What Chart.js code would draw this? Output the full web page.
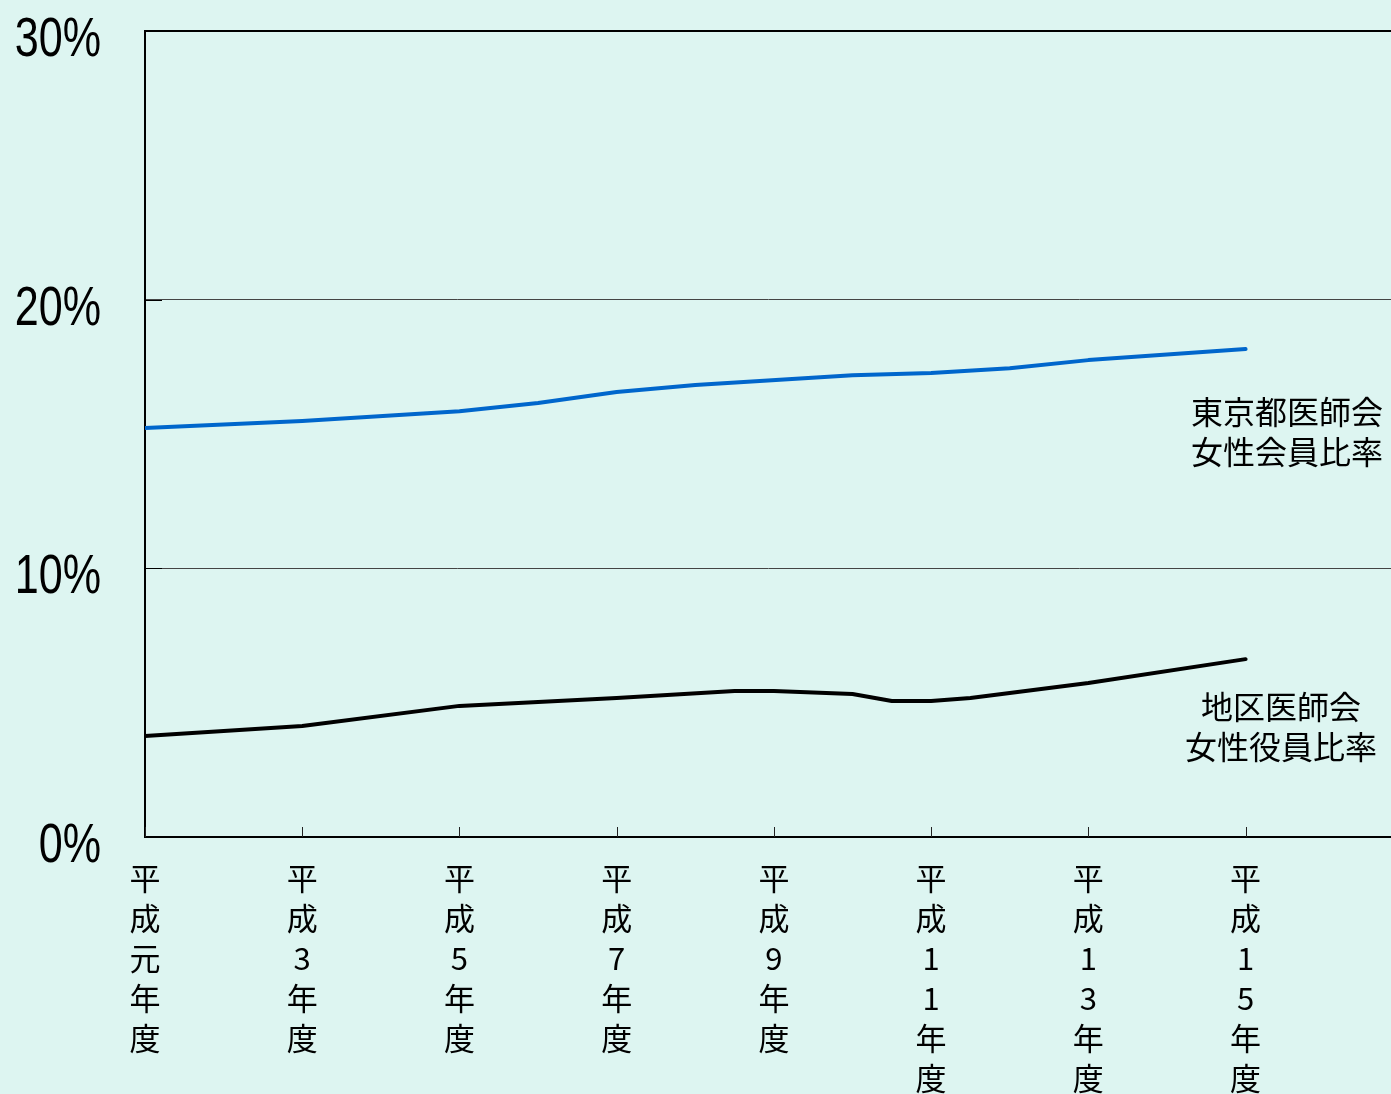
<!DOCTYPE html>
<html><head><meta charset="utf-8">
<script src="https://cdn.jsdelivr.net/npm/chart.js@4/dist/chart.umd.min.js"></script>
<style>html,body{margin:0;padding:0;background:#ddf5f1;overflow:hidden;}</style>
</head><body>
<canvas id="c" width="1391" height="1094" style="display:block;width:1391px;height:1094px"></canvas>
<script>
const tickYears = [1, 3, 5, 7, 9, 11, 13, 15];
const tickLabels = [
  ["平","成","元","年","度"],
  ["平","成","3","年","度"],
  ["平","成","5","年","度"],
  ["平","成","7","年","度"],
  ["平","成","9","年","度"],
  ["平","成","1","1","年","度"],
  ["平","成","1","3","年","度"],
  ["平","成","1","5","年","度"]
];
const yTickValues = [0, 10, 20, 30];
const yTickLabels = ["0%", "10%", "20%", "30%"];
const tokyoYears = [1, 3, 5, 6, 7, 8, 10, 11, 12, 13, 15];
const tokyoRates = [15.22, 15.48, 15.85, 16.15, 16.56, 16.82, 17.19, 17.27, 17.45, 17.75, 18.16];
const districtYears = [1, 3, 5, 7, 8.5, 9, 10, 10.5, 11, 11.5, 13, 15];
const districtRates = [3.76, 4.13, 4.88, 5.17, 5.43, 5.43, 5.32, 5.06, 5.06, 5.17, 5.73, 6.62];
const seriesNames = [["東京都医師会", "女性会員比率"], ["地区医師会", "女性役員比率"]];

const BG = '#ddf5f1';

const bgPlugin = {
  id: 'bg',
  beforeDraw(chart) {
    const ctx = chart.ctx;
    ctx.save();
    ctx.fillStyle = BG;
    ctx.fillRect(0, 0, chart.width, chart.height);
    ctx.restore();
  }
};

const innerTicks = {
  id: 'innerTicks',
  afterDraw(chart) {
    const ctx = chart.ctx;
    const xs = chart.scales.x, ys = chart.scales.y;
    const a = chart.chartArea;
    ctx.save();
    ctx.strokeStyle = '#222';
    ctx.lineWidth = 1;
    tickYears.forEach(v => {
      const px = Math.round(xs.getPixelForValue(v)) + 0.5;
      ctx.beginPath();
      ctx.moveTo(px, a.bottom);
      ctx.lineTo(px, a.bottom - 10);
      ctx.stroke();
    });
    ctx.strokeStyle = '#000';
    yTickValues.filter(v => v > 0 && v < 30).forEach(v => {
      const py = Math.round(ys.getPixelForValue(v)) + 0.5;
      ctx.beginPath();
      ctx.moveTo(a.left, py);
      ctx.lineTo(a.left + 17, py);
      ctx.stroke();
    });
    // y-axis tick labels (condensed sans, drawn at the scale's tick positions)
    ctx.fillStyle = '#000';
    ctx.font = "56px 'Liberation Sans', Arial, sans-serif";
    ctx.textAlign = 'right';
    ctx.textBaseline = 'alphabetic';
    const sx = 0.77;
    yTickValues.forEach((v, i) => {
      const py = ys.getPixelForValue(v) + 25;
      ctx.save();
      ctx.translate(101, py);
      ctx.scale(sx, 1);
      ctx.fillText(yTickLabels[i], 0, 0);
      ctx.restore();
    });
    ctx.restore();
  }
};

const seriesLabels = {
  id: 'seriesLabels',
  afterDraw(chart) {
    const ctx = chart.ctx;
    ctx.save();
    ctx.fillStyle = '#000';
    ctx.font = "32px 'Noto Sans CJK JP'";
    ctx.textAlign = 'center';
    ctx.textBaseline = 'middle';
    const pos = [[1287, 412], [1281, 707]];
    seriesNames.forEach((lines, i) => {
      lines.forEach((t, j) => ctx.fillText(t, pos[i][0], pos[i][1] + j * 40));
    });
    ctx.restore();
  }
};

new Chart(document.getElementById('c'), {
  type: 'line',
  data: {
    datasets: [
      {
        label: seriesNames[0].join(''),
        data: tokyoYears.map((x, i) => ({x, y: tokyoRates[i]})),
        borderColor: '#0066cc',
        borderWidth: 4,
        pointRadius: 0,
        tension: 0,
        borderJoinStyle: 'round',
        borderCapStyle: 'round',
        fill: false
      },
      {
        label: seriesNames[1].join(''),
        data: districtYears.map((x, i) => ({x, y: districtRates[i]})),
        borderColor: '#000000',
        borderWidth: 4,
        pointRadius: 0,
        tension: 0,
        borderJoinStyle: 'round',
        borderCapStyle: 'round',
        fill: false
      }
    ]
  },
  options: {
    responsive: false,
    animation: false,
    devicePixelRatio: 1,
    layout: { padding: { top: 31, right: 0, left: 0, bottom: 0 } },
    plugins: { legend: { display: false }, tooltip: { enabled: false } },
    scales: {
      x: {
        type: 'linear',
        min: 1,
        max: 16.85,
        afterBuildTicks(scale) { scale.ticks = tickYears.map(v => ({value: v})); },
        afterFit(scale) { scale.height = 257; scale.paddingLeft = 0; scale.paddingRight = 0; },
        grid: { display: false, drawTicks: false },
        border: { display: true, color: '#000', width: 2 },
        ticks: {
          autoSkip: false,
          maxRotation: 0,
          minRotation: 0,
          padding: 21,
          color: '#000',
          font: { family: "'Noto Sans CJK JP'", size: 31, lineHeight: 40 / 31 },
          callback(v) { const i = tickYears.indexOf(v); return i >= 0 ? tickLabels[i] : ''; }
        }
      },
      y: {
        type: 'linear',
        min: 0,
        max: 30,
        afterBuildTicks(scale) { scale.ticks = yTickValues.map(v => ({value: v})); },
        afterFit(scale) { scale.width = 145; scale.paddingTop = 0; scale.paddingBottom = 0; },
        grid: {
          drawTicks: false,
          color: ctx => (ctx.tick && (ctx.tick.value === 30 || ctx.tick.value === 0)) ? '#000' : '#444',
          lineWidth: ctx => (ctx.tick && (ctx.tick.value === 30 || ctx.tick.value === 0)) ? 2 : 1
        },
        border: { display: true, color: '#000', width: 2 },
        ticks: { display: false }
      }
    }
  },
  plugins: [bgPlugin, innerTicks, seriesLabels]
});
</script>
</body></html>
